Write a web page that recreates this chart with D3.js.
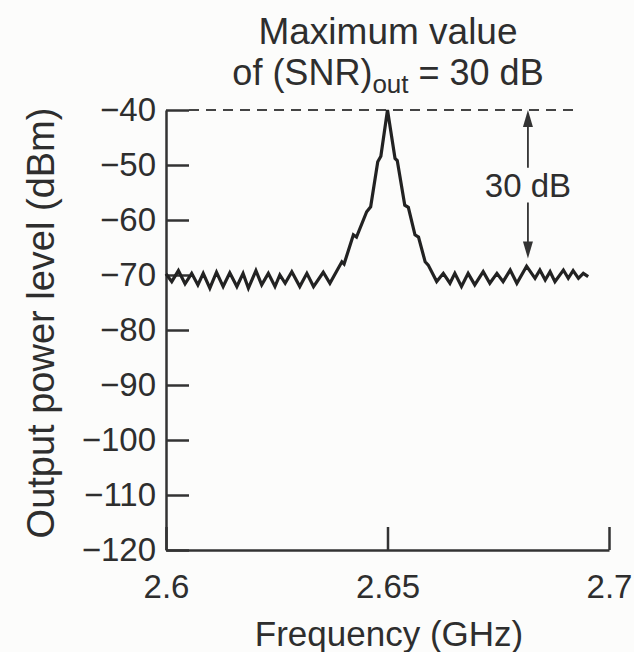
<!DOCTYPE html>
<html>
<head>
<meta charset="utf-8">
<script src="https://cdn.jsdelivr.net/npm/d3@7"></script>
<style>
  body { margin: 0; background: #fcfcfb; }
  svg text { font-family: "Liberation Sans", Arial, sans-serif; fill: #2e2e2e; }
</style>
</head>
<body>
<svg id="chart" width="634" height="652"></svg>
<script>
// spectrum trace
var freq = [2.6000, 2.6013, 2.6028, 2.6043, 2.6058, 2.6072, 2.6084, 2.6099, 2.6114, 2.6129,
            2.6144, 2.6160, 2.6174, 2.6186, 2.6203, 2.6216, 2.6231, 2.6246, 2.6257, 2.6269,
            2.6284, 2.6302, 2.6318, 2.6333, 2.6355, 2.6370,
            2.6397, 2.6402, 2.6423, 2.6430, 2.6453, 2.6462, 2.6478, 2.6485, 2.6500,
            2.6517, 2.6522, 2.6539, 2.6547, 2.6562, 2.6570, 2.6585, 2.6592, 2.6611,
            2.6626, 2.6641, 2.6652, 2.6667, 2.6682, 2.6697, 2.6716, 2.6731, 2.6747, 2.6761,
            2.6777, 2.6792, 2.6814, 2.6833, 2.6844, 2.6856, 2.6867, 2.6878, 2.6897, 2.6908,
            2.6919, 2.6931, 2.6942, 2.6953];
var power = [-69.8, -71.2, -69.2, -71.6, -69.7, -71.8, -69.7, -72.4, -69.5, -72.1,
             -69.6, -72.1, -69.7, -72.4, -69.2, -71.8, -69.7, -72.1, -70.0, -71.5,
             -69.4, -72.1, -69.7, -72.1, -69.5, -71.5,
             -67.6, -68.0, -62.7, -63.1, -58.5, -57.6, -49.4, -48.4, -40.0,
             -48.8, -49.2, -57.3, -57.7, -62.7, -63.1, -67.6, -68.2, -71.2,
             -69.7, -71.5, -69.7, -72.1, -69.7, -71.8, -69.4, -71.5, -69.7, -71.2,
             -69.1, -71.5, -68.4, -70.6, -69.1, -70.9, -69.4, -71.2, -69.1, -70.6,
             -69.2, -70.6, -69.7, -70.3];

var xTicks = [2.6, 2.65, 2.7];
var yTicks = [-40, -50, -60, -70, -80, -90, -100, -110, -120];

var peakLevel = -40, snrArrowFreq = 2.6817, snrArrowBottom = -67, dashEnd = 2.6923;

var margin = {top: 110, right: 25, bottom: 102, left: 166},
    width = 634 - margin.left - margin.right,
    height = 652 - margin.top - margin.bottom;

var svg = d3.select("#chart");
var g = svg.append("g").attr("transform", "translate(" + margin.left + "," + margin.top + ")");

var x = d3.scaleLinear().domain([2.6, 2.7]).range([0, width]);
var y = d3.scaleLinear().domain([-120, -40]).range([height, 0]);

// axes, ticks point inward
var yAxis = g.append("g")
    .call(d3.axisLeft(y).tickValues(yTicks).tickSizeInner(-23).tickSizeOuter(0).tickPadding(10));
var xAxis = g.append("g")
    .attr("transform", "translate(0," + height + ")")
    .call(d3.axisBottom(x).tickValues(xTicks).tickFormat(d3.format("")).tickSizeInner(-23).tickSizeOuter(0).tickPadding(25));

[yAxis, xAxis].forEach(function(a) {
  a.selectAll("path, line").attr("stroke", "#333").attr("stroke-width", 2.5);
  a.selectAll("text").style("font-size", "33px").attr("fill", "#2e2e2e");
});

// dashed reference at the peak level
g.append("line")
    .attr("x1", x(2.6) + 23).attr("x2", x(dashEnd))
    .attr("y1", y(peakLevel)).attr("y2", y(peakLevel))
    .attr("stroke", "#444").attr("stroke-width", 2)
    .attr("stroke-dasharray", "10,7");

// trace
var pts = freq.map(function(f, i) { return [f, power[i]]; });
g.append("path")
    .datum(pts)
    .attr("fill", "none")
    .attr("stroke", "#222")
    .attr("stroke-width", 3.2)
    .attr("stroke-linejoin", "miter")
    .attr("d", d3.line().x(function(d) { return x(d[0]); }).y(function(d) { return y(d[1]); }));

// 30 dB arrow
var ax = x(snrArrowFreq);
g.append("line").attr("x1", ax).attr("x2", ax).attr("y1", y(peakLevel) + 14).attr("y2", y(-50.5))
    .attr("stroke", "#333").attr("stroke-width", 1.8);
g.append("line").attr("x1", ax).attr("x2", ax).attr("y1", y(-56.8)).attr("y2", y(snrArrowBottom) - 14)
    .attr("stroke", "#333").attr("stroke-width", 1.8);
g.append("path")
    .attr("d", "M" + ax + "," + y(peakLevel) + "l-5,17l10,0z")
    .attr("fill", "#333");
g.append("path")
    .attr("d", "M" + ax + "," + y(snrArrowBottom) + "l-5,-17l10,0z")
    .attr("fill", "#333");
g.append("text")
    .attr("x", ax).attr("y", y(-53.6))
    .attr("dy", "0.36em")
    .attr("text-anchor", "middle")
    .style("font-size", "33px")
    .text("30 dB");

// titles
svg.append("text").attr("x", 388).attr("y", 44).attr("text-anchor", "middle")
    .style("font-size", "37px").text("Maximum value");
var t2 = svg.append("text").attr("x", 388).attr("y", 85).attr("text-anchor", "middle")
    .style("font-size", "36px");
t2.append("tspan").text("of (SNR)");
t2.append("tspan").attr("dy", 8).style("font-size", "26px").text("out");
t2.append("tspan").attr("dy", -8).text(" = 30 dB");

svg.append("text")
    .attr("transform", "translate(54,323) rotate(-90)")
    .attr("text-anchor", "middle")
    .style("font-size", "38px")
    .text("Output power level (dBm)");

svg.append("text").attr("x", 389).attr("y", 646).attr("text-anchor", "middle")
    .style("font-size", "35px").text("Frequency (GHz)");
</script>
</body>
</html>
